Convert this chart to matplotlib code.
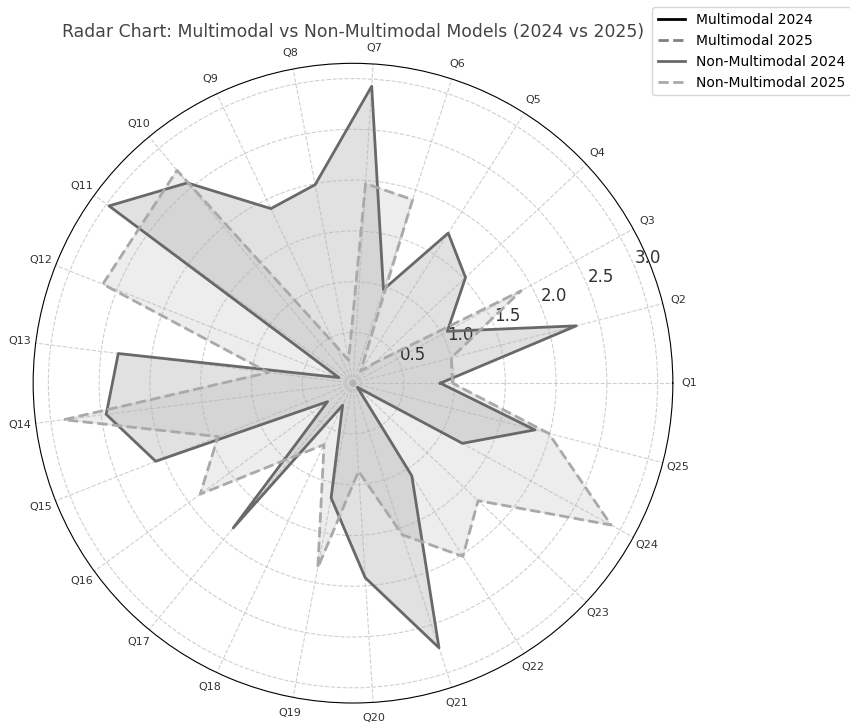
import matplotlib
matplotlib.use("Agg")
import matplotlib.pyplot as plt
import numpy as np

categories = [f"Q{i}" for i in range(1, 26)]

multimodal_2024 = [0.0] * 25
multimodal_2025 = [0.0] * 25
non_multimodal_2024 = [0.86, 2.27, 1.06, 1.52, 1.75, 0.97, 2.93, 1.99, 1.90, 2.56,
                       2.97, 0.15, 2.33, 2.45, 2.09, 0.31, 1.85, 0.24, 1.15, 1.92,
                       2.74, 1.08, 0.06, 1.23, 1.85]
non_multimodal_2025 = [0.98, 1.00, 1.89, 0.29, 0.14, 1.90, 1.97, 0.23, 0.42, 2.72,
                       2.60, 2.65, 0.84, 2.87, 1.43, 1.86, 0.95, 0.67, 1.85, 0.87,
                       1.57, 2.02, 1.69, 2.90, 1.99]

series = [
    ("Multimodal 2024", multimodal_2024, "black", "-"),
    ("Multimodal 2025", multimodal_2025, "gray", "--"),
    ("Non-Multimodal 2024", non_multimodal_2024, "dimgray", "-"),
    ("Non-Multimodal 2025", non_multimodal_2025, "darkgray", "--"),
]

angles = np.linspace(0, 2 * np.pi, len(categories), endpoint=False)
closed = np.concatenate([angles, angles[:1]])

fig = plt.figure(figsize=(8.5, 7.22), dpi=100)
ax = fig.add_axes([0.0388, 0.0263, 0.753, 0.886], projection="polar")

for label, values, color, style in series:
    v = np.concatenate([values, values[:1]])
    ax.plot(closed, v, color=color, linestyle=style, linewidth=2, label=label)
    ax.fill(closed, v, color=color, alpha=0.2)

ax.set_xticks(angles)
ax.set_xticklabels(categories, fontsize=8, color="#333333")
ax.tick_params(axis="x", pad=1)
ax.set_yticks([0.5, 1.0, 1.5, 2.0, 2.5, 3.0])
ax.set_yticklabels(["0.5", "1.0", "1.5", "2.0", "2.5", "3.0"], fontsize=12, color="#333333")
ax.set_ylim(0, 3.15)
ax.grid(True, linestyle="--", alpha=0.6)

ax.set_title("Radar Chart: Multimodal vs Non-Multimodal Models (2024 vs 2025)",
             fontsize=12.4, color="#444444", pad=4)
ax.legend(loc="upper left", bbox_to_anchor=(0.767, 0.99), bbox_transform=fig.transFigure,
          fontsize=10, borderaxespad=0)

fig.savefig("out.png", dpi=100, facecolor="white")
